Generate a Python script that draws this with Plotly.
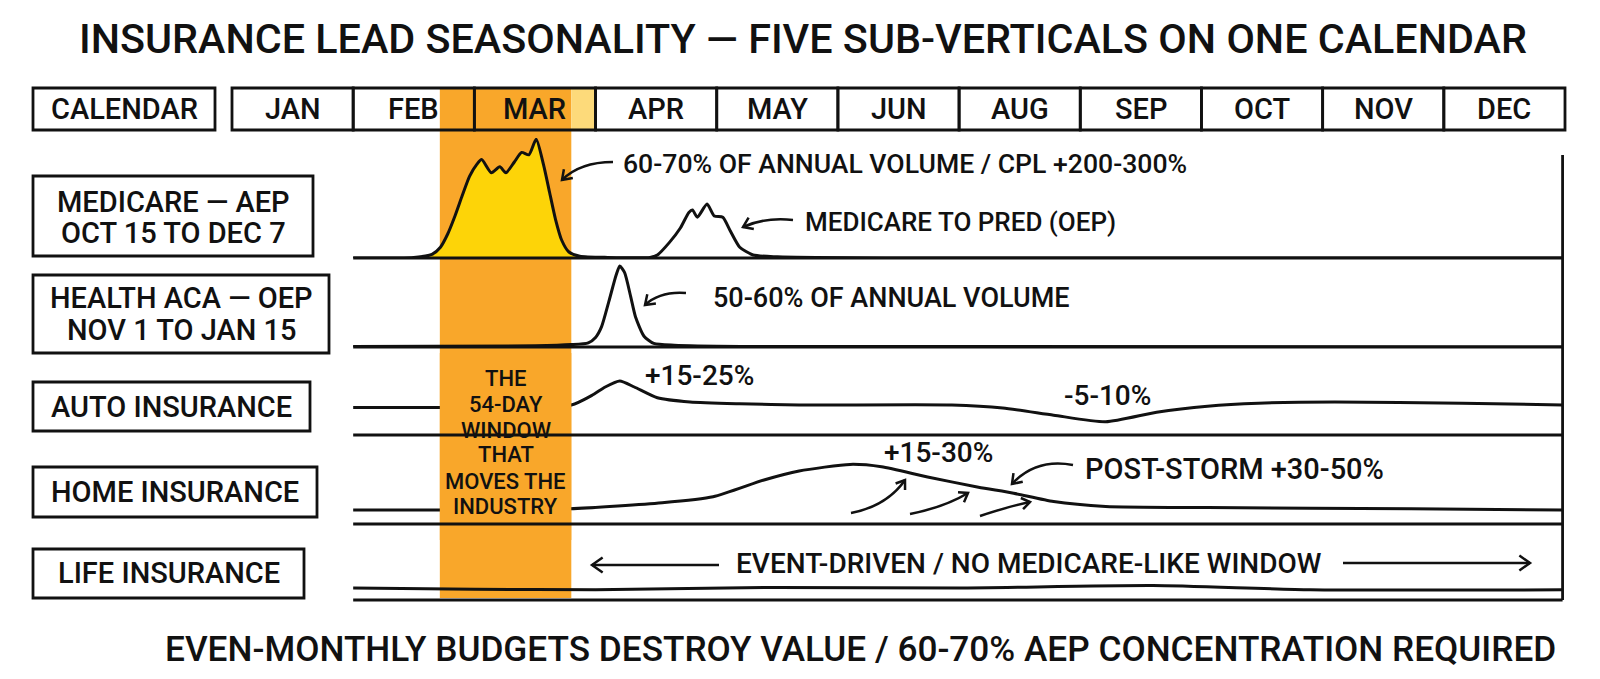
import math
import plotly.graph_objects as go

W, H = 1600, 679
FONT = "Roboto, 'DejaVu Sans', sans-serif"
WEIGHT = 500

# ---------------- data ----------------
MONTHS = ["JAN", "FEB", "MAR", "APR", "MAY", "JUN", "AUG", "SEP", "OCT", "NOV", "DEC"]
ROW_LABELS = [
    ["MEDICARE — AEP", "OCT 15 TO DEC 7"],
    ["HEALTH ACA — OEP", "NOV 1 TO JAN 15"],
    ["AUTO INSURANCE"],
    ["HOME INSURANCE"],
    ["LIFE INSURANCE"],
]
WINDOW_START, WINDOW_END = 1.715, 2.80      # month position of highlighted window
ROW_START, ROW_END = 1.0, 10.98

# Medicare (lead volume index, baseline 0)
medicare_x = [1.00, 1.50, 1.65, 1.72, 1.78, 1.84, 1.90, 1.96, 2.02, 2.06, 2.14, 2.21, 2.26,
              2.33, 2.39, 2.45, 2.51, 2.57, 2.62, 2.67, 2.72, 2.78, 2.87, 3.10, 3.45, 3.51,
              3.61, 3.70, 3.77, 3.80, 3.84, 3.92, 3.98, 4.05, 4.11, 4.19, 4.30, 4.50, 5.50, 10.98]
medicare_y = [0, 0.5, 3, 9, 20, 35, 52, 68, 78, 82, 71, 76, 71,
              80, 88, 86, 99, 78, 55, 32, 15, 5, 1.5, 0.5, 0.5, 2.5,
              13, 25, 38, 40, 34, 45, 35, 34, 23, 9, 2.5, 1, 0, 0]

# Health ACA (lead volume index, baseline 0)
health_x = [1.00, 2.50, 2.80, 2.94, 3.00, 3.05, 3.11, 3.17, 3.20, 3.24, 3.29, 3.33, 3.40,
            3.48, 3.65, 4.20, 10.98]
health_y = [0.5, 1, 2, 3.5, 8, 17, 38, 60, 67.5, 62, 42, 25, 9, 3, 1.5, 0.5, 0]

# Auto (index, 100 = normal)
auto_x = [1.00, 1.71, 2.80, 2.97, 3.08, 3.20, 3.32, 3.51, 3.78, 4.19, 4.68, 5.94, 6.36,
          6.78, 7.21, 7.63, 8.05, 8.47, 9.10, 10.15, 10.98]
auto_y = [98, 98, 100, 108, 115, 120, 115, 106, 102.5, 101, 100, 100, 97.5,
          91.5, 86, 94, 99, 101.5, 102.5, 101.5, 100]

# Home (index, 100 = normal)
home_x = [1.00, 1.71, 2.79, 3.55, 3.97, 4.39, 4.68, 5.10, 5.36, 5.74, 6.16, 6.45, 6.78,
          7.21, 8.05, 9.73, 10.98]
home_y = [100, 100, 101, 106, 111, 125, 132.5, 138, 136, 127.5, 119, 114, 107,
          103, 102, 101, 100]

# Life (index, 100 = normal)
life_x = [1.00, 2.00, 3.00, 4.50, 6.00, 7.60, 8.90, 10.98]
life_y = [100, 99, 98.5, 100.5, 100, 102, 98.5, 98.5]

# ---------------- layout helpers ----------------
X_PX0 = 232.0
PXM = (1565.0 - X_PX0) / 11.0


def fx(px):
    return px / W


def fy(py):
    return 1 - py / H


# row axes: (bottom px, top px, range)
ROWS = [
    (258, 138, [0, 100]),
    (347, 258, [0, 89 / 1.2]),
    (435, 347, [100 - 30 / 1.2, 100 + 58 / 1.2]),
    (524, 435, [100 - 14 / 1.2, 100 + 75 / 1.2]),
    (600, 524, [100 - 12 / 1.2, 100 + 64 / 1.2]),
]

fig = go.Figure()
BLACK = "#111111"
ORANGE = "#F9A72A"
YELLOW = "#FDD408"
LIGHTY = "#FDDA7A"
LW = 2.8


def font(size):
    return dict(size=size, family=FONT, color=BLACK, weight=WEIGHT)


# traces
fig.add_trace(go.Scatter(
    x=[x for x in medicare_x if x <= 3.0],
    y=[y for x, y in zip(medicare_x, medicare_y) if x <= 3.0],
    mode="lines", line=dict(width=0, shape="spline", smoothing=0.6),
    fill="tozeroy", fillcolor=YELLOW, yaxis="y", hoverinfo="skip"))
series = [(medicare_x, medicare_y, "y"), (health_x, health_y, "y2"), (auto_x, auto_y, "y3"),
          (home_x, home_y, "y4"), (life_x, life_y, "y5")]
for xs, ys, ax in series:
    fig.add_trace(go.Scatter(x=xs, y=ys, mode="lines", yaxis=ax,
                             line=dict(color=BLACK, width=3, shape="spline", smoothing=0.6),
                             hoverinfo="skip"))

shapes = []
annotations = []


def text(x, y, txt, size, xref="paper", anchor="center"):
    annotations.append(dict(x=x, y=y, xref=xref, yref="paper", text=txt, showarrow=False,
                            xanchor=anchor, yanchor="middle", font=font(size)))


# orange window band (below traces)
shapes.append(dict(type="rect", xref="x", yref="paper", x0=WINDOW_START, x1=WINDOW_END,
                   y0=fy(598), y1=fy(88), fillcolor=ORANGE, line=dict(width=0), layer="below"))
shapes.append(dict(type="rect", xref="x", yref="paper", x0=WINDOW_END, x1=3.0,
                   y0=fy(130), y1=fy(88), fillcolor=LIGHTY, line=dict(width=0), layer="below"))
# opaque part of band covering auto/home rows
shapes.append(dict(type="rect", xref="x", yref="paper", x0=WINDOW_START, x1=WINDOW_END,
                   y0=fy(540), y1=fy(353), fillcolor=ORANGE, line=dict(width=0), layer="above"))

# calendar strip
for i, m in enumerate(MONTHS):
    shapes.append(dict(type="rect", xref="x", yref="paper", x0=i, x1=i + 1,
                       y0=fy(130), y1=fy(88), line=dict(color=BLACK, width=LW)))
    text(i + 0.5, fy(109), m, 29, xref="x")
shapes.append(dict(type="rect", xref="paper", yref="paper", x0=fx(33), x1=fx(215),
                   y0=fy(130), y1=fy(88), line=dict(color=BLACK, width=LW)))
text(fx(124), fy(109), "CALENDAR", 29)

# row separators and right border
for k, (b, t, r) in enumerate(ROWS):
    ref = "y" if k == 0 else f"y{k + 1}"
    shapes.append(dict(type="line", xref="x", yref=f"{ref} domain", x0=ROW_START, x1=ROW_END,
                       y0=0, y1=0, line=dict(color=BLACK, width=LW)))
shapes.append(dict(type="line", xref="x", yref="paper", x0=ROW_END, x1=ROW_END,
                   y0=fy(600), y1=fy(155), line=dict(color=BLACK, width=LW)))

# row label boxes
boxes = [(33, 313, 176, 256, [202, 233]), (33, 329, 275, 353, [298, 330]),
         (33, 310, 382, 431, [407]), (33, 317, 467, 517, [492]), (33, 304, 549, 598, [573])]
for (x0, x1, y0, y1, lys), lines in zip(boxes, ROW_LABELS):
    shapes.append(dict(type="rect", xref="paper", yref="paper", x0=fx(x0), x1=fx(x1),
                       y0=fy(y1), y1=fy(y0), line=dict(color=BLACK, width=LW)))
    for ly, txt in zip(lys, lines):
        text(fx((x0 + x1) / 2), fy(ly), txt, 29)

# band text
for ly, txt in zip([378, 404, 430, 455, 481, 506],
                   ["THE", "54-DAY", "WINDOW", "THAT", "MOVES THE", "INDUSTRY"]):
    text((WINDOW_START + WINDOW_END) / 2, fy(ly), txt, 22, xref="x")


def note(px, py, txt, size=26, anchor="left"):
    text(fx(px), fy(py), txt, size, anchor=anchor)


note(621, 163, "60-70% OF ANNUAL VOLUME / CPL +200-300%", 26.6)
note(803, 222, "MEDICARE TO PRED (OEP)", 26)
note(711, 298, "50-60% OF ANNUAL VOLUME", 27)
note(643, 375, "+15-25%", 28)
note(1107, 395, "-5-10%", 28, "center")
note(882, 452, "+15-30%", 28)
note(1083, 469, "POST-STORM +30-50%", 29)
note(1029, 563, "EVENT-DRIVEN / NO MEDICARE-LIKE WINDOW", 28, "center")


def head(tipx, tipy, fromx, fromy, size=11, ang=35):
    dx, dy = tipx - fromx, tipy - fromy
    L = math.hypot(dx, dy)
    ux, uy = dx / L, dy / L
    pts = []
    for s in (1, -1):
        a = math.radians(ang) * s
        bx = -ux * math.cos(a) + uy * math.sin(a)
        by = -ux * math.sin(a) - uy * math.cos(a)
        pts.append((tipx + bx * size, tipy + by * size))
    path = (f"M {fx(pts[0][0])},{fy(pts[0][1])} L {fx(tipx)},{fy(tipy)} "
            f"L {fx(pts[1][0])},{fy(pts[1][1])}")
    shapes.append(dict(type="path", path=path, xref="paper", yref="paper",
                       line=dict(color=BLACK, width=2.5)))


def curved(tail, ctrl, tip, size=11):
    path = (f"M {fx(tail[0])},{fy(tail[1])} Q {fx(ctrl[0])},{fy(ctrl[1])} "
            f"{fx(tip[0])},{fy(tip[1])}")
    shapes.append(dict(type="path", path=path, xref="paper", yref="paper",
                       line=dict(color=BLACK, width=2.5)))
    head(tip[0], tip[1], ctrl[0], ctrl[1], size)


curved((613, 162), (580, 162), (562, 180))
curved((793, 220), (765, 217), (743, 227))
curved((686, 293), (660, 291), (645, 305))
curved((1073, 465), (1036, 458), (1012, 484))
curved((851, 513), (887, 506), (905, 480), 10)
curved((910, 514), (945, 507), (968, 493), 10)
curved((980, 516), (1010, 506), (1030, 502), 10)

# life arrows
shapes.append(dict(type="line", xref="paper", yref="paper", x0=fx(719), x1=fx(592),
                   y0=fy(565), y1=fy(565), line=dict(color=BLACK, width=2.5)))
head(592, 565, 600, 565, 13)
shapes.append(dict(type="line", xref="paper", yref="paper", x0=fx(1343), x1=fx(1530),
                   y0=fy(563), y1=fy(563), line=dict(color=BLACK, width=2.5)))
head(1530, 563, 1520, 563, 13)

# title and footer
text(fx(803), fy(39), "INSURANCE LEAD SEASONALITY — FIVE SUB-VERTICALS ON ONE CALENDAR", 41.3)
text(fx(860), fy(649), "EVEN-MONTHLY BUDGETS DESTROY VALUE / 60-70% AEP CONCENTRATION REQUIRED", 35.2)

layout = dict(
    width=W, height=H, margin=dict(l=0, r=0, t=0, b=0),
    paper_bgcolor="white", plot_bgcolor="rgba(0,0,0,0)", showlegend=False,
    xaxis=dict(domain=[0, 1], range=[-X_PX0 / PXM, (W - X_PX0) / PXM], visible=False,
               fixedrange=True),
    shapes=shapes, annotations=annotations,
)
for k, (b, t, r) in enumerate(ROWS):
    name = "yaxis" if k == 0 else f"yaxis{k + 1}"
    layout[name] = dict(domain=[1 - b / H, 1 - t / H], range=r, visible=False,
                        anchor="x", fixedrange=True)
fig.update_layout(**layout)
fig.write_html("out.html")
